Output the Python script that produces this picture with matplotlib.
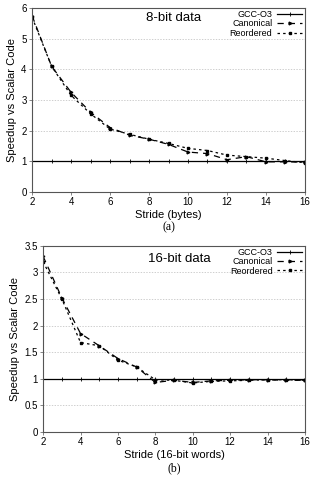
import matplotlib
matplotlib.use("Agg")
import matplotlib.pyplot as plt

plt.rcParams['font.family'] = ['Liberation Sans', 'DejaVu Sans']

strides = list(range(2, 17))
gcc8 = [1.0] * 15
canon8 = [5.75, 4.1, 3.25, 2.6, 2.1, 1.85, 1.72, 1.55, 1.3, 1.25, 1.05, 1.15, 0.98, 0.98, 0.97]
reord8 = [5.7, 4.1, 3.15, 2.55, 2.05, 1.88, 1.72, 1.58, 1.42, 1.35, 1.2, 1.15, 1.1, 1.02, 0.95]

gcc16 = [1.0] * 15
canon16 = [3.3, 2.52, 1.85, 1.62, 1.38, 1.22, 0.93, 0.97, 0.93, 0.96, 0.97, 0.98, 0.98, 0.97, 0.97]
reord16 = [3.2, 2.5, 1.68, 1.62, 1.35, 1.22, 0.98, 0.97, 0.92, 0.95, 0.96, 0.97, 0.98, 0.98, 0.97]

fig = plt.figure(figsize=(3.15, 4.82), dpi=100)
ax1 = fig.add_axes([0.102, 0.602, 0.866, 0.381])
ax2 = fig.add_axes([0.137, 0.104, 0.831, 0.386])

def style(ax, gcc, canon, reord, ylim, yticks, yticklabels, title, title_y, xlabel, cap):
    ax.plot(strides, gcc, '-', color='black', lw=0.9, marker='+', ms=2.5, mew=0.6, label='GCC-O3')
    ax.plot(strides, canon, color='black', lw=0.9, ls=(0, (5, 4)), marker='>', ms=2.0, label='Canonical')
    ax.plot(strides, reord, color='black', lw=0.9, ls=(0, (2, 2.5)), marker='s', ms=1.8, label='Reordered')
    ax.set_xlim(2, 16)
    ax.set_ylim(*ylim)
    ax.set_xticks(range(2, 17, 2))
    ax.set_yticks(yticks)
    ax.set_yticklabels(yticklabels)
    ax.yaxis.grid(True, ls=(0, (2, 2)), color='#bbbbbb', lw=0.5)
    ax.set_axisbelow(True)
    for s in ax.spines.values():
        s.set_color('#555555')
        s.set_linewidth(0.8)
    ax.tick_params(labelsize=7, length=2, width=0.5, pad=2, color='#555555')
    ax.set_xlabel(xlabel, fontsize=8, labelpad=2)
    ax.set_ylabel('Speedup vs Scalar Code', fontsize=8, labelpad=3)
    ax.text(0.52, title_y, title, transform=ax.transAxes, fontsize=9.5, ha='center', va='center')
    ax.legend(loc='upper right', bbox_to_anchor=(0.99, 0.99), frameon=False, fontsize=6.5,
              markerfirst=False, handlelength=2.8, borderpad=0.0, labelspacing=0.05,
              handletextpad=0.5, borderaxespad=0.0)
    ax.text(0.5, -0.195, cap, transform=ax.transAxes, fontsize=8.5, ha='center', va='center',
            family=['Liberation Serif', 'DejaVu Serif'])

style(ax1, gcc8, canon8, reord8, (0, 6), range(0, 7), [str(i) for i in range(0, 7)],
      '8-bit data', 0.945, 'Stride (bytes)', '(a)')
style(ax2, gcc16, canon16, reord16, (0, 3.5), [0, 0.5, 1, 1.5, 2, 2.5, 3, 3.5],
      ['0', '0.5', '1', '1.5', '2', '2.5', '3', '3.5'],
      '16-bit data', 0.93, 'Stride (16-bit words)', '(b)')

fig.savefig('out.png', dpi=100)
